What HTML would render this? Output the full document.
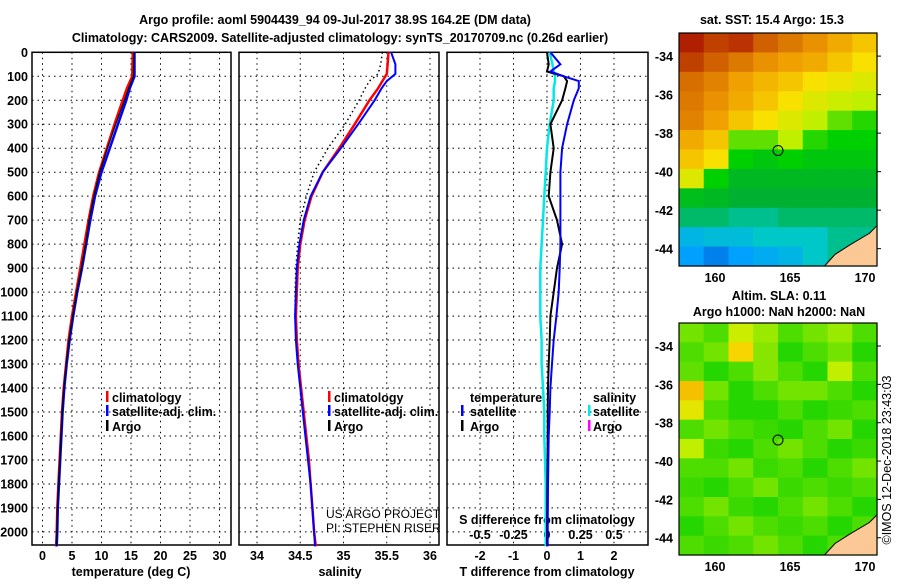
<!DOCTYPE html>
<html><head><meta charset="utf-8"><style>
body{margin:0;background:#fff;}
svg text{font-family:"Liberation Sans",sans-serif;font-weight:bold;font-size:12.5px;fill:#000;}
</style></head><body>
<svg id="s" width="900" height="580" xmlns="http://www.w3.org/2000/svg">
<text x="335" y="24" text-anchor="middle" font-size="14">Argo profile: aoml 5904439_94 09-Jul-2017 38.9S 164.2E (DM data)</text>
<text x="340" y="42" text-anchor="middle" font-size="14">Climatology: CARS2009. Satellite-adjusted climatology: synTS_20170709.nc (0.26d earlier)</text>
<text x="772" y="24" text-anchor="middle">sat. SST: 15.4 Argo: 15.3</text>
<text x="779" y="300" text-anchor="middle">Altim. SLA: 0.11</text>
<text x="779" y="316" text-anchor="middle">Argo h1000: NaN h2000: NaN</text>
<text transform="translate(891,460) rotate(-90)" text-anchor="middle" font-size="11" style="font-weight:normal">©IMOS 12-Dec-2018 23:43:03</text>
<g id="g"></g>
</svg>
<script>
// ---- data ----
const depths = [0,100,150,200,300,400,500,600,700,800,900,1000,1100,1200,1300,1400,1500,1600,1700,1800,1900,2000,2060];
const tempClim = [15.3,15.2,14.3,13.6,12.2,10.9,9.6,8.6,7.8,7.1,6.4,5.7,5.0,4.4,4.0,3.6,3.3,3.1,2.9,2.7,2.5,2.4,2.3];
const tempSat  = [15.6,15.6,14.8,14.2,12.8,11.4,10.0,8.9,8.1,7.4,6.7,5.9,5.2,4.6,4.1,3.7,3.4,3.2,3.0,2.8,2.6,2.5,2.4];
const tempArgo = [15.5,15.4,14.6,13.9,12.4,11.0,9.7,8.7,7.9,7.3,6.6,5.8,5.1,4.5,4.05,3.65,3.35,3.15,2.95,2.75,2.55,2.45,2.35];
const salDepths = [0,50,90,120,150,200,300,400,500,600,700,800,900,1000,1100,1200,1300,1400,1500,1600,1700,1800,1900,2000,2060];
const salClim = [35.52,35.51,35.5,35.45,35.4,35.3,35.13,34.95,34.76,34.63,34.55,34.5,34.47,34.46,34.45,34.46,34.48,34.51,34.54,34.57,34.6,34.62,34.64,34.66,34.68];
const salSat  = [35.55,35.6,35.6,35.5,35.44,35.36,35.17,34.97,34.76,34.62,34.54,34.49,34.46,34.45,34.44,34.45,34.47,34.5,34.53,34.56,34.59,34.62,34.64,34.66,34.67];
const salArgo = [35.45,35.43,35.4,35.3,35.25,35.18,35.02,34.82,34.66,34.57,34.5,34.47,34.45,34.44,34.44,34.45,34.47,34.5,34.53,34.56,34.59,34.62,34.64,34.66,34.67];
const diffDepths = [0,50,80,100,120,150,200,300,400,500,600,700,800,900,1000,1100,1200,1300,1400,1500,1600,1800,2000,2060];
const dTsat  = [0.1,0.4,0.1,0.5,0.95,0.95,0.8,0.6,0.45,0.4,0.4,0.4,0.4,0.38,0.35,0.28,0.2,0.15,0.1,0.08,0.05,0.03,0.02,0.02];
const dTargo = [0,0.05,0,0.5,0.6,0.55,0.45,0.1,0.2,0.1,0.05,0.3,0.45,0.3,0.2,0.1,0.08,0.05,0.03,0.02,0.02,0.01,0,0];
const dSsat  = [0.02,0.04,0.05,0.06,0.06,0.05,0.05,0.02,0,-0.01,-0.02,-0.03,-0.04,-0.05,-0.05,-0.05,-0.04,-0.04,-0.03,-0.02,-0.02,-0.01,-0.01,-0.01];
const depthTicks = [0,100,200,300,400,500,600,700,800,900,1000,1100,1200,1300,1400,1500,1600,1700,1800,1900,2000];
const tempTicks = [0,5,10,15,20,25,30];
const salTicks = [34,34.5,35,35.5,36];
const salTickLabels = ['34','34.5','35','35.5','36'];
const dTTicks = [-2,-1,0,1,2];
const dSTicks = [-0.5,-0.25,0,0.25,0.5];
const latTicks = [-34,-36,-38,-40,-42,-44];
const lonTicks = [160,165,170];
const sstGrid = [
[0.95,0.9,0.92,0.85,0.8,0.75,0.7,0.65],
[0.9,0.85,0.8,0.75,0.72,0.7,0.65,0.6],
[0.82,0.78,0.72,0.68,0.65,0.6,0.58,0.55],
[0.8,0.75,0.7,0.65,0.6,0.55,0.52,0.5],
[0.78,0.72,0.65,0.6,0.55,0.5,0.45,0.42],
[0.7,0.65,0.45,0.45,0.5,0.42,0.4,0.4],
[0.65,0.6,0.4,0.38,0.4,0.38,0.38,0.38],
[0.55,0.4,0.35,0.35,0.35,0.35,0.35,0.35],
[0.36,0.35,0.33,0.33,0.33,0.33,0.33,0.33],
[0.3,0.3,0.28,0.28,0.3,0.3,0.3,0.3],
[0.2,0.22,0.22,0.25,0.25,0.25,0.28,0.28],
[0.15,0.1,0.15,0.18,0.2,0.25,0.28,0.28]];
const slaGrid = [
[0.46,0.44,0.52,0.48,0.44,0.46,0.48,0.44],
[0.44,0.46,0.62,0.47,0.42,0.44,0.46,0.42],
[0.45,0.42,0.44,0.47,0.44,0.42,0.5,0.44],
[0.66,0.46,0.42,0.44,0.46,0.46,0.44,0.42],
[0.56,0.44,0.42,0.42,0.44,0.42,0.43,0.44],
[0.44,0.46,0.44,0.43,0.42,0.44,0.46,0.42],
[0.5,0.43,0.42,0.44,0.46,0.44,0.42,0.43],
[0.44,0.44,0.46,0.43,0.44,0.42,0.44,0.46],
[0.43,0.42,0.44,0.46,0.43,0.44,0.43,0.44],
[0.44,0.46,0.43,0.42,0.44,0.46,0.44,0.42],
[0.42,0.44,0.46,0.44,0.43,0.44,0.42,0.44],
[0.44,0.43,0.44,0.46,0.44,0.42,0.44,0.44]];
const argoLon = 164.2, argoLat = -38.9;

// ---- helpers ----
const NS='http://www.w3.org/2000/svg';
const G=document.getElementById('g');
function mk(t,a){const e=document.createElementNS(NS,t);for(const k in a)e.setAttribute(k,a[k]);G.appendChild(e);return e;}
const PT=52.3, PB=545;
const yD=d=>PT+d*0.2398;
const xT=v=>42.5+v*5.9;
const xS=v=>257+(v-34)*86.5;
const xDT=v=>547+v*33.5;
const xDS=v=>547+v*134;
function panel(x0,x1,name){
  const r=mk('rect',{x:x0,y:PT,width:x1-x0,height:PB-PT,fill:'none',stroke:'#000','stroke-width':1.5});
  
  
  depthTicks.forEach(d=>{
    const l=mk('line',{x1:x0,x2:x1,y1:yD(d),y2:yD(d),stroke:'#000','stroke-width':1,'stroke-dasharray':'1.5,4'});
    
    
  });
}
function vgrid(xs,name){xs.forEach(x=>{const l=mk('line',{x1:x,x2:x,y1:PT,y2:PB,stroke:'#000','stroke-width':1,'stroke-dasharray':'1.5,4'});
  
  });}
function line(ds,vs,fx,col,w,name,dash){
  const pts=ds.map((d,i)=>fx(vs[i]).toFixed(1)+','+yD(d).toFixed(1)).join(' ');
  const a={points:pts,fill:'none',stroke:col,'stroke-width':w};if(dash)a['stroke-dasharray']=dash;
  const p=mk('polyline',a);
  
  
}
function txt(x,y,s,a,name,extra){const t=mk('text',Object.assign({x:x,y:y,'text-anchor':a||'start'},extra||{}));t.textContent=s;
  
  return t;}
function legBar(x,y,col,name){const r=mk('rect',{x:x,y:y-10,width:2.5,height:11,fill:col});
  
  }

depthTicks.forEach(d=>txt(28,yD(d)+4.5,String(d),'end','depth-tick-label'));

// panel 1
panel(32,231,'temperature-panel');
vgrid(tempTicks.map(xT),'temperature');
tempTicks.forEach(v=>txt(xT(v),560,String(v),'middle','temperature-tick-label'));
txt(131,576,'temperature (deg C)','middle','temperature-axis-title');
line(depths,tempClim,xT,'#ff0000',2.5,'temperature-climatology-line');
line(depths,tempSat,xT,'#0000ff',2.5,'temperature-satellite-line');
line(depths,tempArgo,xT,'#000',1.2,'temperature-argo-line');
legBar(106,401,'#f00','legend-climatology-swatch');txt(112,402,'climatology','start','legend-climatology');
legBar(106,415,'#00f','legend-satellite-swatch');txt(112,416,'satellite-adj. clim.','start','legend-satellite');
legBar(106,430,'#000','legend-argo-swatch');txt(112,431,'Argo','start','legend-argo');

// panel 2
panel(239,439,'salinity-panel');
vgrid(salTicks.map(xS),'salinity');
salTicks.forEach((v,i)=>txt(xS(v),560,salTickLabels[i],'middle','salinity-tick-label'));
txt(340,576,'salinity','middle','salinity-axis-title');
line(salDepths,salArgo,xS,'#000',1.5,'salinity-argo-line','1.5,3');
line(salDepths,salClim,xS,'#ff0000',2.5,'salinity-climatology-line');
line(salDepths,salSat,xS,'#0000ff',2,'salinity-satellite-line');
legBar(328,401,'#f00','legend2-climatology-swatch');txt(334,402,'climatology','start','legend2-climatology');
legBar(328,415,'#00f','legend2-satellite-swatch');txt(334,416,'satellite-adj. clim.','start','legend2-satellite');
legBar(328,430,'#000','legend2-argo-swatch');txt(334,431,'Argo','start','legend2-argo');
txt(326,518,'US ARGO PROJECT','start','project-credit',{style:'font-weight:normal;font-size:12px'});
txt(326,532,'PI: STEPHEN RISER','start','pi-credit',{style:'font-weight:normal;font-size:12px'});

// panel 3
panel(447,648,'difference-panel');
vgrid(dTTicks.map(xDT),'difference');
dTTicks.forEach(v=>txt(xDT(v),560,String(v),'middle','tdiff-tick-label'));
txt(547,576,'T difference from climatology','middle','tdiff-axis-title');
dSTicks.forEach(v=>txt(xDS(v),539,String(v),'middle','sdiff-tick-label'));
txt(547,524,'S difference from climatology','middle','sdiff-axis-title');
line(diffDepths,dSsat,xDS,'#00e8e8',2.5,'salinity-diff-satellite-line');
line(diffDepths,dTargo,xDT,'#000',2,'temperature-diff-argo-line');
line(diffDepths,dTsat,xDT,'#0000ff',2,'temperature-diff-satellite-line');
txt(470,402,'temperature','start','legend3-temperature');
legBar(461,415,'#00f','legend3-tsat-swatch');txt(470,416,'satellite','start','legend3-tsat');
legBar(461,430,'#000','legend3-targo-swatch');txt(470,431,'Argo','start','legend3-targo');
txt(593,402,'salinity','start','legend3-salinity');
legBar(588,415,'#00e8e8','legend3-ssat-swatch');txt(593,416,'satellite','start','legend3-ssat');
legBar(588,430,'#ff00ff','legend3-sargo-swatch');txt(593,431,'Argo','start','legend3-sargo');

// maps
const stops=[[0,[0,64,192]],[0.15,[0,160,255]],[0.25,[0,200,200]],[0.33,[0,176,48]],[0.4,[0,208,0]],[0.5,[192,240,0]],[0.6,[248,224,0]],[0.72,[240,160,0]],[0.85,[208,96,0]],[1,[160,0,0]]];
function cmap(v){for(let i=1;i<stops.length;i++){if(v<=stops[i][0]){const a=stops[i-1],b=stops[i],t=(v-a[0])/(b[0]-a[0]);
 return 'rgb('+a[1].map((c,k)=>Math.round(c+(b[1][k]-c)*t)).join(',')+')';}}return 'rgb(160,0,0)';}
const LON0=157.6,LON1=170.8,LAT0=-32.8,LAT1=-44.9;
function drawMap(top,bot,grid,name){
  const X0=679,X1=877;
  const xl=lo=>X0+(lo-LON0)/(LON1-LON0)*(X1-X0);
  const yl=la=>top+(la-LAT0)/(LAT1-LAT0)*(bot-top);
  const nr=grid.length,nc=grid[0].length,cw=(X1-X0)/nc,ch=(bot-top)/nr;
  grid.forEach((row,i)=>row.forEach((v,j)=>{
    const r=mk('rect',{x:X0+j*cw,y:top+i*ch,width:cw+0.6,height:ch+0.6,fill:cmap(v)});
    
    
  }));
  const land=mk('polygon',{points:[[X1,yl(-42.8)],[xl(170.3),yl(-43.2)],[xl(169),yl(-43.8)],[xl(168),yl(-44.3)],[xl(167.3),bot],[X1,bot]].map(p=>p.join(',')).join(' '),fill:'#fcc896',stroke:'#000','stroke-width':1});
  
  
  const fr=mk('rect',{x:X0,y:top,width:X1-X0,height:bot-top,fill:'none',stroke:'#000','stroke-width':1.2});
  
  
  latTicks.forEach(la=>{txt(673,yl(la)+5,String(la),'end',name+'-lat-label');
    const t=mk('line',{x1:X1,x2:X1+4,y1:yl(la),y2:yl(la),stroke:'#000'});
    
    });
  lonTicks.forEach(lo=>txt(xl(lo),bot+16,String(lo),'middle',name+'-lon-label'));
  const c=mk('circle',{cx:xl(argoLon),cy:yl(argoLat),r:5,fill:'none',stroke:'#000','stroke-width':1});
  
  
}
drawMap(33,266,sstGrid,'sst-map');
drawMap(323,555,slaGrid,'sla-map');
</script>
</body></html>
